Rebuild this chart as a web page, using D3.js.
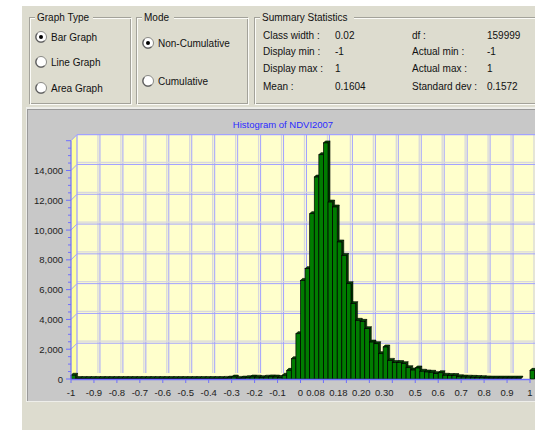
<!DOCTYPE html>
<html><head><meta charset="utf-8">
<script src="https://cdn.jsdelivr.net/npm/d3@7/dist/d3.min.js"></script>
<style>body{margin:0;background:#fff}svg{display:block;font-family:"Liberation Sans",Arial,sans-serif}</style>
</head><body><svg id="c" width="535" height="430"></svg>
<script>
// ---------- data ----------
const classWidth = 0.02;
const binCounts = [
  250, 30, 30, 30, 30, 30, 30, 30, 30, 30,
  30, 30, 30, 30, 30, 30, 30, 30, 30, 30,
  30, 30, 30, 30, 30, 30, 30, 30, 30, 30,
  30, 30, 30, 40, 60, 130, 40, 60, 90, 130,
  120, 90, 120, 140, 130, 100, 250, 580, 1360, 3040,
  6620, 7410, 11100, 13560, 15060, 15850, 11880, 11550, 9200, 8300,
  6400, 5060, 3940, 3870, 3380, 2480, 2370, 1700, 2150, 1250,
  1100, 1100, 1030, 760, 600, 740, 520, 470, 450, 360,
  420, 250, 230, 230, 150, 130, 120, 110, 100, 90,
  70, 60, 60, 60, 60, 60, 60, 60, 0, 0,
  580
];
const xTickValues = [-1,-0.9,-0.8,-0.7,-0.6,-0.5,-0.4,-0.3,-0.2,-0.1,0,0.1,0.2,0.3,0.4,0.5,0.6,0.7,0.8,0.9,1];
const xTickLabels = ["-1","-0.9","-0.8","-0.7","-0.6","-0.5","-0.4","-0.3","-0.2","-0.1","0","0.08","0.18","0.20","0.30","0.5","0.6","0.7","0.8","0.9","1"];
const yTickValues = [0,2000,4000,6000,8000,10000,12000,14000];
const yTickLabels = ["0","2,000","4,000","6,000","8,000","10,000","12,000","14,000"];
const graphTypes = ["Bar Graph","Line Graph","Area Graph"];
const modes = ["Non-Cumulative","Cumulative"];
const statLabels1 = ["Class width :","Display min :","Display max :","Mean :"];
const statValues1 = ["0.02","-1","1","0.1604"];
const statLabels2 = ["df :","Actual min :","Actual max :","Standard dev :"];
const statValues2 = ["159999","-1","1","0.1572"];
const title = "Histogram of NDVI2007";

// ---------- drawing ----------
const svg = d3.select("#c");
const BEIGE = "#dddccf";
svg.append("rect").attr("width",535).attr("height",430).attr("fill","#fff");
svg.append("rect").attr("x",22).attr("y",6).attr("width",513).attr("height",424).attr("fill",BEIGE);

function groupBox(x,y,w,h,label,lw){
  const g = svg.append("g");
  g.append("rect").attr("x",x+0.5).attr("y",y+0.5).attr("width",w).attr("height",h)
    .attr("fill","none").attr("stroke","#a3a29a");
  g.append("rect").attr("x",x+1.5).attr("y",y+1.5).attr("width",w).attr("height",h)
    .attr("fill","none").attr("stroke","#fbfbf7");
  g.append("rect").attr("x",x+6).attr("y",y-6).attr("width",lw).attr("height",12).attr("fill",BEIGE);
  g.append("text").attr("x",x+8).attr("y",y+3.5).attr("font-size",10).attr("fill","#111").text(label);
}
function radio(cx,cy,checked,label){
  svg.append("circle").attr("cx",cx).attr("cy",cy).attr("r",5.5).attr("fill","#fff")
    .attr("stroke","#8a8a86").attr("stroke-width",1);
  svg.append("path").attr("d",d3.arc()({innerRadius:4.5,outerRadius:5.5,startAngle:-Math.PI*0.75,endAngle:Math.PI*0.25}))
    .attr("transform",`translate(${cx},${cy}) rotate(-90)`).attr("fill","#555");
  if(checked) svg.append("circle").attr("cx",cx).attr("cy",cy).attr("r",2).attr("fill","#000");
  svg.append("text").attr("x",cx+10).attr("y",cy+3.5).attr("font-size",10).attr("fill","#111").text(label);
}
groupBox(29,17,101,86,"Graph Type",58);
graphTypes.forEach((t,i)=>radio(41,[37,62,88][i],i===0,t));
groupBox(136,17,111,86,"Mode",32);
modes.forEach((t,i)=>radio(148,[43,81][i],i===0,t));
groupBox(254,17,300,86,"Summary Statistics",94);
const rowY = [38.5,55,72,90];
statLabels1.forEach((t,i)=>svg.append("text").attr("x",263).attr("y",rowY[i]).attr("font-size",10).attr("fill","#111").text(t));
statValues1.forEach((t,i)=>svg.append("text").attr("x",335).attr("y",rowY[i]).attr("font-size",10).attr("fill","#111").text(t));
statLabels2.forEach((t,i)=>svg.append("text").attr("x",412).attr("y",rowY[i]).attr("font-size",10).attr("fill","#111").text(t));
statValues2.forEach((t,i)=>svg.append("text").attr("x",487).attr("y",rowY[i]).attr("font-size",10).attr("fill","#111").text(t));

// chart panel
svg.append("rect").attr("x",26).attr("y",107).attr("width",509).attr("height",295).attr("fill","#eeeeea");
svg.append("rect").attr("x",27).attr("y",109).attr("width",508).attr("height",292).attr("fill","#c8c8c8");
svg.append("line").attr("x1",27).attr("x2",535).attr("y1",109.5).attr("y2",109.5).attr("stroke","#9a9a9a");
svg.append("line").attr("x1",27.5).attr("x2",27.5).attr("y1",109).attr("y2",401).attr("stroke","#9a9a9a");
svg.append("text").attr("x",283).attr("y",127.5).attr("text-anchor","middle").attr("font-size",9.5)
  .attr("fill","#2b2bff").text(title);

const xF = d3.scaleLinear().domain([-1,1]).range([71,530]);
const yF = d3.scaleLinear().domain([0,16000]).range([379,140.7]);
const DX = 6, DY = -6;
const plot = svg.append("g");
const backTop = yF(16000)+DY, backBot = yF(0)+DY, backLeft = xF(-1)+DX;
plot.append("rect").attr("x",backLeft).attr("y",backTop).attr("width",535-backLeft).attr("height",backBot-backTop).attr("fill","#ffffcc");
plot.append("polygon").attr("points",[[xF(-1),yF(0)],[xF(-1),yF(16000)],[backLeft,backTop],[backLeft,backBot]].join(" ")).attr("fill","#ffff9e");
plot.append("polygon").attr("points",[[xF(-1),yF(0)],[backLeft,backBot],[xF(1)+DX,backBot],[xF(1),yF(0)]].join(" ")).attr("fill","#ffffcc");

const GRAY="#d8d8dc", BLUE="#a2a2ff";
xTickValues.slice(1).forEach(v=>{
  const x = xF(v)+DX;
  plot.append("line").attr("x1",x-2).attr("x2",x-2).attr("y1",backTop).attr("y2",backBot).attr("stroke",GRAY).attr("stroke-width",1.3);
  plot.append("line").attr("x1",x).attr("x2",x).attr("y1",backTop).attr("y2",backBot).attr("stroke",BLUE).attr("stroke-width",1);
});
yTickValues.slice(1).forEach(v=>{
  const y = yF(v)+DY;
  plot.append("line").attr("x1",backLeft).attr("x2",535).attr("y1",y-2).attr("y2",y-2).attr("stroke",GRAY).attr("stroke-width",1.3);
  plot.append("line").attr("x1",backLeft).attr("x2",535).attr("y1",y).attr("y2",y).attr("stroke",BLUE).attr("stroke-width",1);
  plot.append("line").attr("x1",xF(-1)).attr("x2",backLeft).attr("y1",yF(v)).attr("y2",y).attr("stroke",BLUE).attr("stroke-width",1);
});
plot.append("line").attr("x1",backLeft).attr("x2",535).attr("y1",backTop).attr("y2",backTop).attr("stroke",BLUE).attr("stroke-width",1.3);
plot.append("line").attr("x1",backLeft).attr("x2",backLeft).attr("y1",backTop).attr("y2",backBot).attr("stroke",BLUE).attr("stroke-width",1.3);
plot.append("line").attr("x1",xF(-1)).attr("x2",backLeft).attr("y1",yF(16000)).attr("y2",backTop).attr("stroke",BLUE).attr("stroke-width",1);

// bars
const bw = xF(classWidth)-xF(0);
const bars = plot.append("g");
binCounts.forEach((c,i)=>{
  if(c<=0) return;
  const x0 = xF(-1+i*classWidth), yt = yF(c), yb = yF(0), d=2;
  bars.append("polygon").attr("points",[[x0+bw,yt],[x0+bw+d,yt-d],[x0+bw+d,yb-d],[x0+bw,yb]].join(" "))
    .attr("fill","#003a00").attr("stroke","#000").attr("stroke-width",0.5);
  bars.append("polygon").attr("points",[[x0,yt],[x0+d,yt-d],[x0+bw+d,yt-d],[x0+bw,yt]].join(" "))
    .attr("fill","#004d00").attr("stroke","#000").attr("stroke-width",0.6);
  bars.append("rect").attr("x",x0).attr("y",yt).attr("width",bw).attr("height",yb-yt)
    .attr("fill","#007c00").attr("stroke","#000").attr("stroke-width",0.7);
});

// axes
const AX="#6f6fff";
svg.append("line").attr("x1",xF(-1)).attr("x2",xF(-1)).attr("y1",yF(16000)).attr("y2",yF(0)).attr("stroke",AX).attr("stroke-width",1.2);
svg.append("line").attr("x1",xF(-1)).attr("x2",530).attr("y1",yF(0)+0.5).attr("y2",yF(0)+0.5).attr("stroke",AX).attr("stroke-width",1.5);
yF.ticks(32).forEach(v=>{
  const major = v%2000===0;
  svg.append("line").attr("x1",xF(-1)-(major?5:3)).attr("x2",xF(-1)).attr("y1",yF(v)).attr("y2",yF(v)).attr("stroke",AX);
});
yTickValues.forEach((v,i)=>svg.append("text").attr("x",63).attr("y",yF(v)+3.5).attr("text-anchor","end")
  .attr("font-size",9.5).attr("fill","#222").text(yTickLabels[i]));
xTickValues.forEach((v,i)=>{
  svg.append("line").attr("x1",xF(v)).attr("x2",xF(v)).attr("y1",yF(0)).attr("y2",yF(0)+4).attr("stroke",AX);
  const odd = v>0 && v<0.45;
  svg.append("text").attr("x",xF(v)+(odd?-8:0)).attr("y",396).attr("text-anchor","middle")
    .attr("font-size",9.5).attr("fill","#222").text(xTickLabels[i]);
});
</script></body></html>
